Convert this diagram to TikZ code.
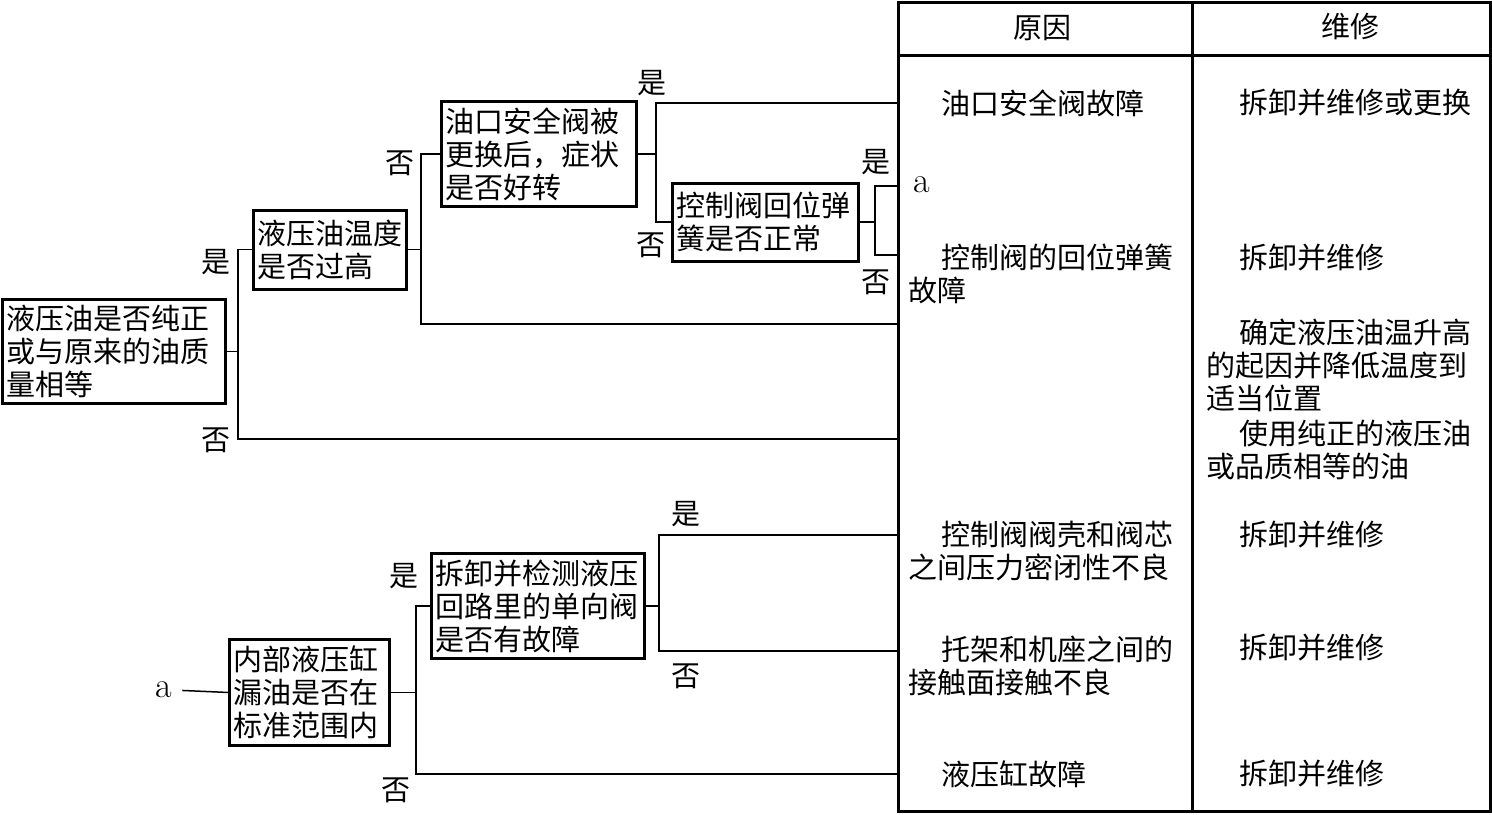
\documentclass[tikz,border=0pt]{standalone}
\usepackage{fontspec}
\newfontfamily\cjk{Noto Sans CJK SC}
\newcommand\ind{\hspace*{1.15em}}

\begin{document}
\begin{tikzpicture}[x=0.5pt,y=-0.5pt,
  every node/.style={inner sep=0pt,outer sep=0pt},
  qbox/.style={draw,line width=1.5pt,inner xsep=2pt,inner ysep=3pt,align=left,
    font=\cjk\fontsize{14.5}{16.5}\selectfont},
  cell/.style={anchor=west,align=left,font=\cjk\fontsize{14.5}{16.5}\selectfont},
  yn/.style={font=\cjk\fontsize{14.5}{16.5}\selectfont},
  lt/.style={font=\fontsize{18}{20}\selectfont},
  wire/.style={line width=0.75pt},
  tab/.style={line width=1.5pt}]
\useasboundingbox (0,0) rectangle (1492,814);

% ---- table -------------------------------------------------------------
\draw[tab] (898,2) rectangle (1490,811);
\draw[tab] (1192,2) -- (1192,811);
\draw[tab] (898,55) -- (1490,55);
\node[yn] (hcause) at (1042,28) {原因};
\node[yn] (hfix) at (1350,26) {维修};

\node[cell] (c1) at (908,103) {\ind 油口安全阀故障};
\node[lt] (ta) at (922,185) {a};
\node[cell] (c2) at (908,274) {\ind 控制阀的回位弹簧\\故障};
\node[cell] (c3) at (908,551.5) {\ind 控制阀阀壳和阀芯\\之间压力密闭性不良};
\node[cell] (c4) at (908,666) {\ind 托架和机座之间的\\接触面接触不良};
\node[cell] (c5) at (908,774) {\ind 液压缸故障};

\node[cell] (r1) at (1206,103) {\ind 拆卸并维修或更换};
\node[cell] (r2) at (1206,258) {\ind 拆卸并维修};
\node[cell] (r3) at (1206,365) {\ind 确定液压油温升高\\的起因并降低温度到\\适当位置};
\node[cell] (r4) at (1206,450) {\ind 使用纯正的液压油\\或品质相等的油};
\node[cell] (r5) at (1206,535) {\ind 拆卸并维修};
\node[cell] (r6) at (1206,648) {\ind 拆卸并维修};
\node[cell] (r7) at (1206,774) {\ind 拆卸并维修};

% ---- questions ---------------------------------------------------------
\node[qbox,text width=107.5pt] (pure) at (113.5,351.5) {液压油是否纯正\\或与原来的油质\\量相等};
\node[qbox,text width=72.5pt,minimum height=39.5pt] (temp) at (330,249.5) {液压油温度\\是否过高};
\node[qbox,text width=93.5pt] (safe) at (538.5,154) {油口安全阀被\\更换后，症状\\是否好转};
\node[qbox,text width=89pt,minimum height=39pt] (spring) at (765,222) {控制阀回位弹\\簧是否正常};
\node[qbox,text width=76pt] (leak) at (309,692.5) {内部液压缸\\漏油是否在\\标准范围内};
\node[qbox,text width=102.5pt] (check) at (537.5,606) {拆卸并检测液压\\回路里的单向阀\\是否有故障};
\node[lt] (la) at (164,690) {a};

% ---- forks -------------------------------------------------------------
\coordinate (j1) at (238,351.5);
\coordinate (j2) at (421,249.5);
\coordinate (j3) at (656,154);
\coordinate (j4) at (875,222);
\coordinate (j5) at (416,692.5);
\coordinate (j6) at (659,606);
\coordinate (e1) at (898,439);
\coordinate (e2) at (898,324);
\coordinate (e3) at (898,103);
\coordinate (e4a) at (898,186);
\coordinate (e4b) at (898,255);
\coordinate (e5) at (898,774);
\coordinate (e6a) at (898,535);
\coordinate (e6b) at (898,651);

\draw[wire] (pure.east) -- (j1);
\draw[wire] (temp.west) -| (j1) |- (e1);
\draw[wire] (temp.east) -- (j2);
\draw[wire] (safe.west) -| (j2) |- (e2);
\draw[wire] (safe.east) -- (j3);
\draw[wire] (e3) -| (j3) |- (spring.west);
\draw[wire] (spring.east) -- (j4);
\draw[wire] (e4a) -| (j4) |- (e4b);

\draw[wire,shorten <=5pt] (la.east) -- (leak.west);
\draw[wire] (leak.east) -- (j5);
\draw[wire] (check.west) -| (j5) |- (e5);
\draw[wire] (check.east) -- (j6);
\draw[wire] (e6a) -| (j6) |- (e6b);

% ---- yes / no ----------------------------------------------------------
\foreach \x/\y/\t [count=\i] in {216/262/是, 216/440/否, 400/163/否, 652/83/是,
    651/245/否, 876/162/是, 876/282/否, 404/576/是, 396/790/否,
    686/514/是, 686/676/否} {
  \node[yn] (yn\i) at (\x,\y) {\t};
}
\end{tikzpicture}
\end{document}
